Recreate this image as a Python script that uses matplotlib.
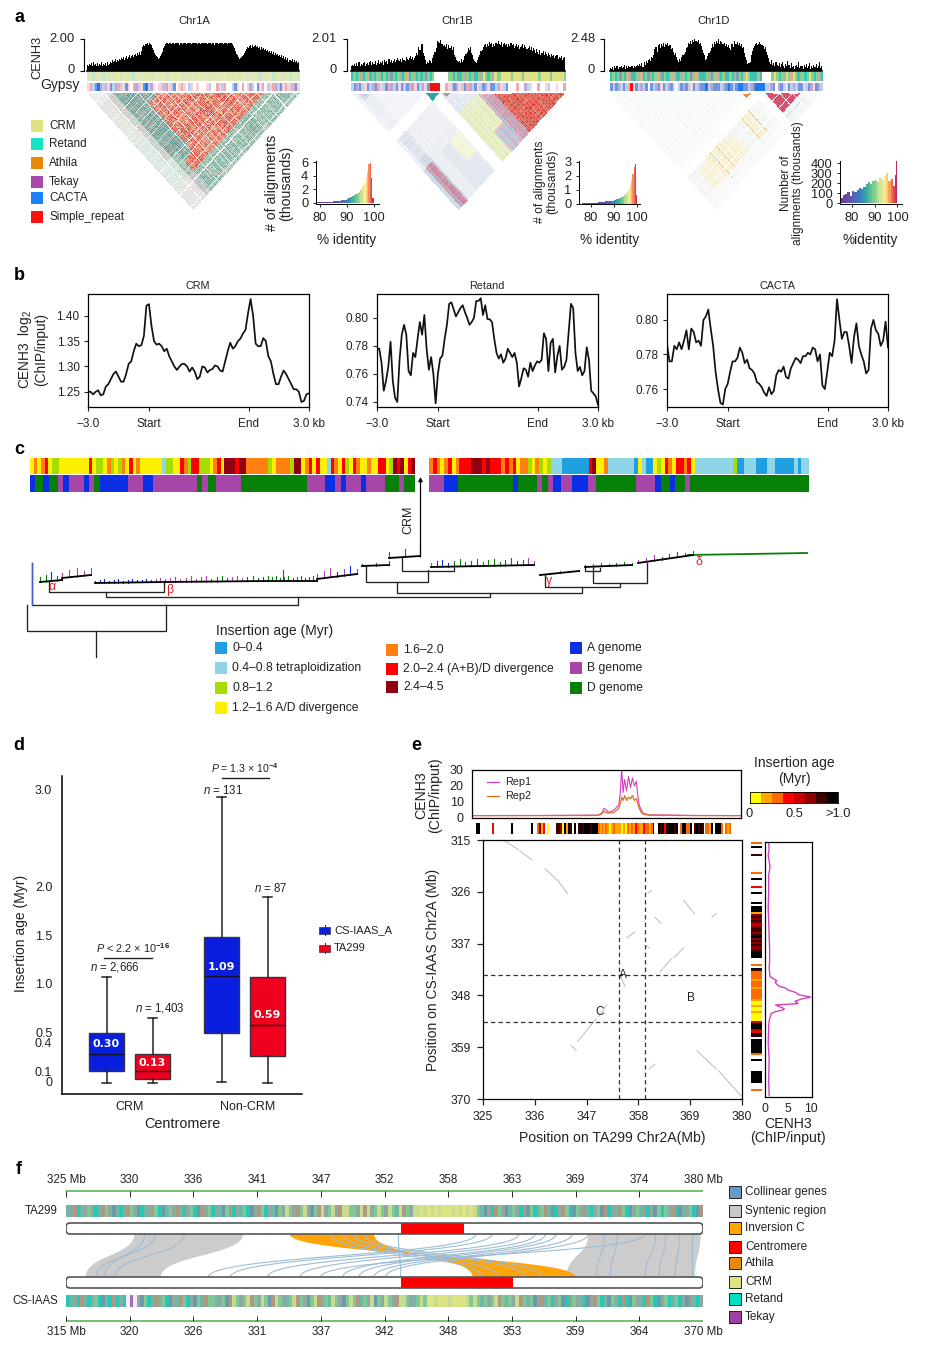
import numpy as np
import matplotlib
matplotlib.use('Agg')
import matplotlib.pyplot as plt
from matplotlib.colors import to_rgb, LinearSegmentedColormap
from matplotlib.patches import Rectangle, FancyBboxPatch, PathPatch
from matplotlib.path import Path

plt.rcParams['font.family'] = ['Liberation Sans', 'DejaVu Sans']
plt.rcParams['mathtext.fontset'] = 'custom'
plt.rcParams['mathtext.rm'] = 'Liberation Sans'
plt.rcParams['mathtext.it'] = 'Liberation Sans:italic'
plt.rcParams['mathtext.bf'] = 'Liberation Sans:bold'
plt.rcParams['mathtext.default'] = 'regular'
plt.rcParams['axes.linewidth'] = 0.9

# ------------------------------------------------------------------ data: a
chr_names = ['Chr1A', 'Chr1B', 'Chr1D']
cenh3_max = [2.00, 2.01, 2.48]
# CENH3 signal read along each chromosome, one base-36 level (0..z of 35) per character
sig_A = ('768796a7869587a68796a78a' '9cabdacbdcedfceg' 'dfhegifhjgkilhm' 'qsrtuvsv' 'tspnkigfde' 'gjlprt'
         'vvuvvtvvuvvvvsvvuvvvtvvvvuvvvvtvvuvvvvvvtvvvuvvsvvvuvvvvtvvvuvvvv' 'trpmjhfdefgi' 'kmoqprspsqrsqrpqnqopnomnlmkm' 'jlikhjgifhegdfceaccbdacab9a')
sig_B = ('5768596a6879a6897ab7a8b79c8a9b7cab8dac9bdacecbdaecbfdcegdfce' 'gkhqnutkgc' '8a9cb9ehlp' 'xwvytursqtosprnq' 'hfcbab9dac' 'gjlpnqkhdb' 'a9'
         'cfimnqsuqtrwuvqtrvuxtswqtvsuqtrvsuprtqsoqrtpsqoprnq' 'mpnkoljnhkmiljgkhfjgieghdfegcef')
sig_D = ('324153524463472536456354' '5768694a7b9cdbfe' 'ioqlsuptrvqtsv' 'rsoplikf' 'cadbfhjl' 'pqvtxuywzxwytvrnkh' 'cdgkmp' 'tqwuxvztxwuvrtqspn'
         'tuqxuwsvrtpq' 'kfc89a' 'hmprtvsuwtsroq' 'lhea8c79' '6a75948a6385b739462574a365274836925374836a35')
strip1_A = 'mytmyemtymemyymeymytmeyemymemyeyeymeymyeymemyemymyeymemyeyeymymeymyemeyeytmemyetmymemymtyem'
strip1_B = 'tgtgmtgotmtgmtgtmsgtgmtgotgmtgtmsgtg      ggtgstgmgtgstgmygtgmyggyyyygyyyymyyyyyygyyyymyyyyyg'
strip1_D = 'tgtmsgtomstgmotgsmtgomsgtmogstmgtgsmogtstgmsgomtgstgtmsgtoygtstgs    gygtgmygoygtmgtgygtgmt'
strip2_A = 'qplbBulpqbluplqbqwpulqbBluqwqlpuqlbwqpqwlqwqwwwqlwwpqlpwwlbqwpwqulwbqpwlqpulbqpqlpbq'
strip2_B = 'lbublqblubpqlbpulbqblbpuqbluqbRRRR wpqlbuqlbpulbqlbuqbbluqlb wwpwwulqwwpwwqlwwqwwp'
strip2_D = 'blbulblpRqblulbwblubqblubqwlbublqblubbBlubbblubBblbBBbblubBBBBllubwublqblulbbqlbuqbul'
tri_A_weight = ('4643545346345436453' '0' '4635463546'
                '789687968796897968978967889' '0' '78'
                '978689498697896379687968578697'
                '0798697856798867948698796397869'
                '78968979647968978698396897869798'
                '9786897968' '0' '7968578698796397869'
                '78697896479688797689679869' '0' '0' '7986'
                '8796978698796878968' '0' '68796')
tri_B_weight = ('34534' '67867' '98979' '78678'
                '35345' '43534' '53453' '45345' '34534' '53453' '43534' '45343' '53454' '34534'
                '343'
                '00000' '00000' '0000'
                '4657' '5674' '6567' '5746' '5765' '6475' '5647' '5675' '5746' '5765'
                '7687' '6786' '8768'
                '7897' '9878' '8987' '9789' '8798' '9879' '8978' '7989' '8789' '9878' '7987' '9789' '8798' '9879' '8978' '9879' '7898' '8979')
tri_D_weight = ('3235234' '2342352' '4323423' '2352342' '3234232' '3423523'
                '4824234' '2352382' '3423532' '2342352' '3234232' '4232342' '3523423'
                '2342352' '3234823' '2352342' '3248232' '3423423'
                '222222222' '0010101010'
                '89989898998898' '0' '99898989898' '0' '89989898'
                '1' '34234' '8234' '23423' '4232')
tri_A_region = ['ppppbbbbbbpp', 'ptttttttggpp', 'pptttttttrgg', 'ppttrrrrrrgg', 'pprrrrrrrrgg', 'pprrrrrrrrgg',
                'pprrrrrrrrgg', 'pprrrrrrrrgg', 'pprrrrrrrrgg', 'pprrrrrrrrgg', 'pprrrrrrrrgg', 'ggggggggggggg']
tri_B_region = ['wwwwwwwwssss', 'wwwwwwwwwwww', 'wwwwwwwwmmmm', 'wwwwwwwwyymm', 'wwwwwwwwwwww', 'wwwwwwwyyyyy',
                'wwwwwwwyyyss', 'wwwwwwwsssss', 'wwwwwwwwrrrr', 'wwwwwwwwrrrr', 'wwwwwwwwrrrr', 'wwwwwwwwrrrr']
tri_D_region = ['vvvvvvvvvvvv', 'vvvvvvvvvoov', 'vvvvvvvvooov', 'vvvvvvvvooov', 'vvvvvvvvvoov', 'vvvvvvvvvvvv',
                'vvvvvvvvooov', 'vvvvvvvvvvvv', 'vvvvvvvvvvvv', 'vvvvvvvvvvvv', 'vvvvvvvvvvvv', 'vvvvvvvvvvvv']
tri_B_blocks = [(.35, .41, '#2AA6A6', False), (.43, .46, '#A0A0A0', False)]
tri_D_blocks = [(.625, .665, '#F08A30', False), (.735, .895, '#D84868', True)]
hist_A_x = [79,80,81,82,83,84,85,86,87,88,89,90,90.5,91,91.5,92,92.5,93,93.5,94,94.5,95,95.5,96,96.5,97,97.5,98,98.5,99,99.5]
hist_A_y = [.03,.04,.05,.07,.1,.14,.18,.22,.3,.36,.42,.55,.7,.8,.85,.95,1.1,1.25,1.35,1.5,1.65,1.9,2.3,2.6,3.0,3.6,4.6,5.7,5.9,3.6,.7]
hist_B_x = [76,77,78,79,80,81,82,83,84,85,86,87,88,89,90,90.5,91,91.5,92,92.5,93,93.5,94,94.5,95,95.5,96,96.5,97,97.5,98,98.5,99,99.5]
hist_B_y = [.01,.02,.02,.03,.04,.05,.06,.08,.1,.12,.15,.18,.2,.22,.25,.28,.3,.34,.38,.42,.46,.5,.55,.62,.72,.85,1.0,1.15,1.35,1.7,2.1,2.6,2.85,.6]
hist_D_x = [75,76,77,78,79,80,81,82,83,84,85,86,87,88,89,90,91,92,93,94,95,96,97,98,99,99.5]
hist_D_y = [50,85,95,110,70,125,110,130,150,140,165,190,210,190,225,235,210,250,230,270,300,220,240,170,280,420]

# ------------------------------------------------------------------ data: b
crm_values = [1.25,1.25,1.245,1.25,1.253,1.243,1.245,1.26,1.265,1.275,1.285,1.29,1.28,1.27,1.27,1.285,1.305,1.31,1.33,1.345,1.34,1.342,1.36,1.42,1.423,1.38,1.35,1.343,1.345,1.34,1.33,1.335,1.32,1.31,1.30,1.293,1.30,1.305,1.305,1.30,1.29,1.298,1.29,1.275,1.28,1.30,1.298,1.288,1.293,1.295,1.302,1.30,1.292,1.29,1.31,1.33,1.347,1.335,1.34,1.35,1.355,1.365,1.372,1.405,1.433,1.40,1.345,1.34,1.34,1.356,1.35,1.32,1.31,1.285,1.265,1.265,1.28,1.292,1.285,1.275,1.265,1.255,1.255,1.25,1.23,1.232,1.245,1.247]
retand_values = [.778,.778,.768,.748,.755,.765,.783,.755,.743,.74,.77,.788,.795,.788,.762,.759,.775,.772,.785,.797,.788,.802,.778,.763,.772,.76,.739,.76,.771,.773,.785,.795,.81,.811,.806,.801,.804,.807,.809,.804,.80,.795,.797,.80,.812,.812,.814,.802,.809,.799,.799,.797,.785,.775,.771,.774,.768,.771,.778,.775,.772,.775,.768,.751,.757,.764,.763,.758,.768,.762,.766,.769,.768,.77,.789,.785,.762,.782,.785,.761,.773,.78,.763,.765,.77,.79,.81,.807,.775,.762,.765,.759,.762,.779,.77,.748,.746,.744,.738]
cacta_values = [.786,.776,.776,.785,.783,.787,.783,.788,.794,.783,.795,.793,.787,.788,.785,.80,.802,.806,.795,.785,.77,.76,.752,.751,.76,.763,.77,.776,.776,.778,.784,.781,.775,.777,.772,.771,.769,.764,.763,.761,.758,.756,.761,.757,.759,.768,.771,.77,.773,.767,.766,.772,.775,.778,.777,.775,.779,.779,.781,.78,.784,.783,.776,.78,.762,.76,.77,.781,.779,.788,.812,.80,.789,.793,.793,.785,.775,.79,.798,.785,.78,.776,.769,.771,.795,.80,.794,.792,.785,.788,.799,.784]
b_titles = ['CRM', 'Retand', 'CACTA']
b_ylims = [(1.22, 1.443), (.7364, .817), (.7496, .815)]
b_yticks = [[1.25, 1.30, 1.35, 1.40], [.74, .76, .78, .80], [.76, .78, .80]]
b_xlabels = ['\u22123.0', 'Start', 'End', '3.0 kb']

# ------------------------------------------------------------------ data: c
c_age_left = 'yoyoryggyyyyyyyyryggyogygoyryoyyyyyylggyyrogrrgggyorydddrddoooooogyoooogddyoryryylroyrgyroyyoyyrrygdrdyrd'
c_age_right = 'oroyoryorrrdddrdrrrororyoogyogyglllbbbbbbbrdyyolllllllbylbbygyroyrroryllllllllllgbblllbbbllbbbbblbll'
c_gen_left = [('A',10),('D',15),('A',11),('D',17),('B',10),('A',10),('B',28),('A',10),('B',10),('D',10),('A',54),('B',28),('A',18),('B',84),('D',8),('B',12),('D',16),('B',47),('D',123),('B',34),('A',20),('B',10),('A',10),('B',28),('A',10),('B',35),('D',27),('B',10),('D',20)]
c_gen_right = [('B',28),('A',27),('D',103),('A',10),('D',36),('B',10),('D',10),('B',10),('A',16),('B',20),('A',30),('B',15),('D',75),('B',37),('A',10),('D',17),('A',10),('D',19),('B',10),('D',224)]
c_age_names = ['0\u20130.4', '0.4\u20130.8 tetraploidization', '0.8\u20131.2', '1.2\u20131.6 A/D divergence', '1.6\u20132.0', '2.0\u20132.4 (A+B)/D divergence', '2.4\u20134.5']
c_genome_names = ['A genome', 'B genome', 'D genome']
tree_brackets = [(26.5,165.6,605,605,631),(32,298,563,597,605),(106,490,592,593,597),(49,164,582,582,592),(397,582,582,587,593),
                 (366,427.5,566,570,582),(402,454,557,568,571),(545,620,575,583,587),(593,647,568,563,583),(585,600,567,568,571)]
tree_combs = [(40,582,62,580,'DDADD',5),(62,578,91,575,'BBBBB',5),(95,583,165,582,'AAAAAAAAAAAAABBB',2),(165,582,268,581,'BBBBBBBBBDDDDBBBDDDDD',3),
              (268,581,317,581,'DDDDDDDDDDDDD',3),(317,579,357,574,'BBBABAB',5),(362,566,389,565,'DDD',2),(389,558,420,556,'DDD',6),
              (431,567,534,565,'BAAADDDDDDDDDDDDDBB',4),(540,575,579,571,'DDDDD',1),(585,567,632,565,'ABDDDDD',2),(638,563,693,555,'BBBDDDDD',3)]
tree_trunks = [(688,555,807,553)]
greek_labels = [(52,587,'\u03b1'),(170,590,'\u03b2'),(549,581,'\u03b3'),(699,562,'\u03b4')]

# ------------------------------------------------------------------ data: d
d_stats = [dict(med=.278, q1=.10, q3=.495, whislo=-.02, whishi=1.07, fliers=[]),
           dict(med=.10, q1=.02, q3=.278, whislo=-.02, whishi=.65, fliers=[]),
           dict(med=1.08, q1=.495, q3=1.485, whislo=-.01, whishi=2.93, fliers=[]),
           dict(med=.58, q1=.26, q3=1.07, whislo=-.02, whishi=1.90, fliers=[])]
d_positions = [-.2, .2, .8, 1.2]
d_means = ['0.30', '0.13', '1.09', '0.59']
d_mean_y = [.38, .185, 1.18, .68]
d_colors = ['#0A1EE0', '#F0001E', '#0A1EE0', '#F0001E']
d_yticks = [0, .1, .4, .5, 1.0, 1.5, 2.0, 3.0]
d_ylabels = ['0', '0.1', '0.4', '0.5', '1.0', '1.5', '2.0', '3.0']

# ------------------------------------------------------------------ data: e
rep_pos = [325,340,350.8,351.5,352,352.4,353,354,355,355.3,355.6,355.9,356.2,356.6,357,357.4,357.8,358.2,358.6,358.9,359.2,359.6,360,361,370,380]
rep1 = [1.5,1.6,1.8,3,6,5,3.5,5,8,15,31,16,24,17,26,19,25,20,23,14,8,5,3,2,1.6,1.5]
rep2 = [1.5,1.5,1.6,2.5,4,3.5,3,3.5,6,9,13,11,14,11,13,12,14,11,12,9,6,3.5,2.5,1.8,1.5,1.5]
e_dots = [(329.4,315.1,332.5,317),(332.8,317.3,335.4,319.2),(338.2,321.1,341.2,324),(341.2,324,343,326.4),(367.6,327.8,369.9,330.7),
          (361.5,331.4,362.8,332.7),(373.6,331.4,374.5,330.7),(367.6,337.9,365.5,340),(365,340.2,362.6,343),(354.1,343.6,355.2,346.2),
          (351.3,350,349.5,352.5),(349,353,345.1,357.8),(343.7,358.6,344.8,359.7),(370.4,359.7,374.5,363.6),(375,364,379.9,369.4),
          (361.5,362.6,360.3,363.6),(355.5,335.8,357.3,334.5),(359.4,337.4,360.3,337.9),(360,326.3,360.8,325.7)]
e_vlines = [353.9, 359.3]
e_hlines = [343.7, 353.6]
e_top_strip = ('77      3         7         7  2513 0    ' '66507176 7 6' '767776777' '21212101211101021213211322127' '  ' '7673677767 277227 67676 2217 7772 212')
e_side_strip = (' 2 7   6        2  7   3  7    7 7771' '56565456656756565567' '77   2 76' '22221222122222' '1' '0010010000' '4' '777437' '6 7' '777777' '2  7     777777   2    ')
e_prof_pos = [315.4,316.7,318.1,320.5,322.3,325.9,329.4,332.2,335.1,337.9,340.7,342.2,344,344.6,344.9,345.2,345.6,346.1,346.5,346.9,347.4,347.9,348.4,348.8,349.3,349.8,350.1,350.6,350.9,351.2,351.6,352,352.5,353,353.7,354.4,355.5,358.3,361.8,366.1,369.5]
e_prof_val = [.8,.9,.7,1.1,.8,.8,.7,.8,.9,1.0,1.0,.9,1.1,2.0,2.6,2.2,2.5,3.1,4.5,5,6.6,7.3,9.9,8.0,6.5,7.2,2.3,3.5,4.2,3.8,2.0,1.3,1.2,1.0,.9,.8,.8,.7,.9,.8,.9]
age_cmap_colors = ['#FFFF00', '#FFA500', '#FF6A00', '#FF0000', '#CC0000', '#8B0000', '#400000', '#000000']

# ------------------------------------------------------------------ data: f
f_top_labels = ['325 Mb','330','336','341','347','352','358','363','369','374','380 Mb']
f_bot_labels = ['315 Mb','320','326','331','337','342','348','353','359','364','370 Mb']
f_ticks = [325,330.5,336,341.5,347,352.5,358,363.5,369,374.5,380]
f_top_strip = ('tmaTtmgmTtagmstTmagmsTtmagTstgmatTmgTsamgTmtsgaTmtgTsmagTmts' 'gmygmagymsgaymgymayyggmyaymgygmygtyagmy' 'ycycycycccycycycy'
               'gtsmTagmstgmTasgTmgatsTmagTsgmatTmgsaTmtagTsmgtaTmsgTgmaTstmgTsa')
f_bot_strip = ('TtmTatTmgTstTaTmTwuwmsgTtamgTsmtagTmsgtaggtmgsaygmgyagmygsay' 'gmtgyagmsgyamgtygmsgygatgmysgmygmayygmtgyg' 'ccycccyccccy'
               'gygtgmgyagtgmyagtgsmatgTmgsTagmtTsmagTtsgmTaTsgmtTagTsmgTtgTmsatTm')
ribbons_gray = [(330.9,340.3,316.7,323.2),(370.1,379.8,358.2,369.3)]
ribbons_orange = [(344.3,351.6,359.0,350.1)]
f_lines = [(332.7,317.6),(335.2,319.2),(331.8,318.3),(371.5,360.8),(372.6,362),(375.9,365),(376.8,366.2),(378,367.6),(379.1,369.1),(353.7,343.9),
           (347.9,350.9),(348.9,352.3),(349.8,354.6),(350.7,356),(360.4,327.3),(361.8,329.2),(364.1,332.4),(365.5,335.2),(366.4,338.9),(367.3,340.3),(368.7,341.6),(370.1,342.6),(375,337)]
f_centromere_top = (353.9, 359.4)
f_centromere_bot = (343.9, 353.6)
f_legend = [('Collinear genes','#6A9BC8'),('Syntenic region','#C8C8C8'),('Inversion C','#FFA500'),('Centromere','#FF0000'),
            ('Athila','#E8890C'),('CRM','#DDE282'),('Retand','#00E0C0'),('Tekay','#A040A0')]

# ------------------------------------------------------------------ helpers
W, H = 930, 1354
fig = plt.figure(figsize=(W/100, H/100), dpi=100, facecolor='white')

def ax_px(x0, y0, x1, y1, **kw):
    return fig.add_axes([x0/W, 1-y1/H, (x1-x0)/W, (y1-y0)/H], **kw)

ov = ax_px(0, 0, W, H, zorder=10)
ov.patch.set_alpha(0)
ov.set_xlim(0, W); ov.set_ylim(H, 0); ov.axis('off'); ov.set_autoscale_on(False)

def T(x, y, s, size=8, ha='center', va='center', **kw):
    return ov.text(x, y, s, fontsize=size, ha=ha, va=va, color=kw.pop('color', '#222222'), **kw)

def strip(ax, codes, pal, x0, x1, y0, y1, interp='nearest', vertical=False):
    rgb = np.array([to_rgb(pal.get(c, '#FFFFFF')) for c in codes])
    arr = rgb[:, None, :] if vertical else rgb[None, :, :]
    ax.imshow(arr, extent=(x0, x1, y1, y0), aspect='auto', interpolation=interp, zorder=2)

def runs(lst):
    return ''.join(c*n for c, n in lst)

# ------------------------------------------------------------------ panel labels
for lab, x, y in [('a',19,18),('b',19,275),('c',19,449),('d',19,745),('e',416,745),('f',19,1170)]:
    ov.text(x, y, lab, fontsize=13, fontweight='bold', ha='center', va='center', color='black')

# ------------------------------------------------------------------ panel a
pal_top_A = {'m':'#D9E6B8','y':'#E6EBA8','t':'#B5EBDD','e':'#E2E6CC'}
pal_top = {'t':'#2CCDB0','g':'#8FCF90','m':'#A8B8A0','o':'#D8B48C','s':'#6FA8B0','y':'#DDE282'}
pal_bot = {'b':'#6F96E0','B':'#1E78F0','l':'#BBD0F0','p':'#F0A8B4','q':'#F8D4D8','u':'#B8A8D8','R':'#F01010'}
panel_a = [
    (sig_A, strip1_A, strip2_A, pal_top_A, 84, 87, 299, 194, 75),
    (sig_B, strip1_B, strip2_B, pal_top, 347, 351, 565, 457, 337),
    (sig_D, strip1_D, strip2_D, pal_top, 604, 610, 822, 714, 595),
]
for k, (sig, s1, s2, pal, sp, xa, xb, tx, lx) in enumerate(panel_a):
    ax = ax_px(sp, 39, xb, 71)
    vmax = cenh3_max[k]
    levels = np.array([int(c, 36) for c in sig]) / 35 * vmax
    xs = np.linspace(xa, xb, len(levels)+1)
    ax.stairs(levels, xs, fill=True, color='black', baseline=0)
    ax.set_xlim(sp, xb); ax.set_ylim(0, vmax)
    for s in ['top', 'right', 'bottom']:
        ax.spines[s].set_visible(False)
    ax.spines['left'].set_linewidth(.8)
    ax.set_xticks([]); ax.set_yticks([0, vmax]); ax.set_yticklabels([])
    ax.tick_params(length=3, width=.8)
    ov.plot([xa, xb], [71, 71], color='black', lw=1.2, zorder=3)
    T(lx, 39, f'{vmax:.2f}', 9.3, ha='right'); T(lx, 70, '0', 9.3, ha='right')
    T(tx, 21, chr_names[k], 8)
    strip(ov, s1, pal, xa, xb, 72, 81, 'bilinear' if k == 0 else 'nearest')
    strip(ov, s2, pal_bot, xa, xb, 83, 91)
T(37, 57, 'CENH3', 9.3, rotation=90)
T(80, 85, 'Gypsy', 10, ha='right')
a_legend = [('CRM','#DDE282',126),('Retand','#16E3C6',144),('Athila','#E8890C',163),('Tekay','#A848A8',182),('CACTA','#1E80FF',198),('Simple_repeat','#FF1010',217)]
for name, col, y in a_legend:
    ov.add_patch(Rectangle((31, y-6), 12, 12, fc=col, ec='none'))
    T(49, y, name, 8.4, ha='left')

tri_pal = {'p':('#8A90A8','#C4B8A0',.8),'b':('#C8B898','#98C0B0',.85),'t':('#3C9088','#A89888',1.0),'r':('#D62C2C','#E8A060',1.0),
           'g':('#5E9C8C','#B4C8A8',1.0),'w':('#6E84B0','#A0AEC8',.5),'s':('#D05870','#70A0C8',.9),'y':('#A8CC70','#E4E088',.8),
           'm':('#70B8A0','#A8B8D0',.8),'v':('#8AB8B8','#C0D0C8',.6),'o':('#E09860','#E0C860',.75)}

def triangle(x0, x1, y0, y1, weight, region, blocks=()):
    ax = ax_px(x0, y0, x1, y1)
    ax.axis('off')
    w = np.array([int(c) for c in weight]) / 9.0
    n = len(w); R = len(region)
    img = np.ones((n, n, 3))
    for i in range(n):
        for j in range(i+1, n):
            c = region[min(i*R//n, R-1)][min(j*R//n, R-1)]
            c1, c2, st = tri_pal[c]
            mix = min(1.0, 2.5*abs(w[i]-w[j]))
            col = (1-mix)*np.array(to_rgb(c1)) + mix*np.array(to_rgb(c2))
            a = st*w[i]*w[j]
            img[j, i] = 1-a+a*col
    for u0, u1, c, use_w in blocks:
        i0, i1 = int(u0*n), int(u1*n)
        for i in range(i0, i1):
            for j in range(i+1, i1+1):
                if j < n:
                    if use_w:
                        a = 0 if w[i]*w[j] == 0 else .55+.45*w[i]*w[j]
                    else:
                        a = 1
                    img[j, i] = 1-a+a*np.array(to_rgb(c))
    a = np.arange(n+1)
    A, B = np.meshgrid(a, a)
    X = (A+B)/2/n
    Y = (B-A)/2/n
    ax.pcolormesh(X, Y, img, shading='flat', linewidth=0, rasterized=True)
    ax.set_xlim(0, 1); ax.set_ylim(.5, 0)

triangle(87, 300, 93, 210, tri_A_weight, tri_A_region)
triangle(352, 565, 93, 210, tri_B_weight, tri_B_region, tri_B_blocks)
triangle(610, 822, 93, 210, tri_D_weight, tri_D_region, tri_D_blocks)

rain = LinearSegmentedColormap.from_list('rain', [(0,'#6A3FA0'),(.2,'#5A60B0'),(.35,'#3088C0'),(.45,'#40B0A0'),(.55,'#70C890'),
                                                 (.65,'#C0E090'),(.75,'#F8F0A0'),(.82,'#F8C060'),(.9,'#F05050'),(1,'#B02060')])
hist_panels = [
    (hist_A_x, hist_A_y, (316,161,379,204), (78.5,102), (6.2,-.2), [0,2,4,6], ['0','2','4','6'], 80, 1.5),
    (hist_B_x, hist_B_y, (579,161,640,204), (74.8,101.3), (3.05,-.03), [0,1,2,3], ['0','1','2','3'], 80, 1.5),
    (hist_D_x, hist_D_y, (840,161,902,204), (74.7,102), (420,-8), [0,100,200,300,400], ['0','100','200','300','400'], 75, 1.0),
]
for hx, hy, box, xl, yl, yt, ytl, v0, gam in hist_panels:
    ax = ax_px(box[0], box[1], box[2], box[3])
    hx = np.array(hx, float)
    widths = np.diff(np.append(hx, 100))
    ax.bar(hx, hy, width=widths, align='edge', color=rain(np.clip((hx-v0)/(100-v0), 0, 1)**gam), linewidth=0)
    ax.set_xlim(*xl); ax.set_ylim(yl[1], yl[0])
    ax.set_xticks([80, 90, 100]); ax.set_yticks(yt); ax.set_yticklabels(ytl)
    ax.tick_params(labelsize=9.3, length=2.5, width=.7, pad=3, colors='#222222')
    ax.spines['top'].set_visible(False); ax.spines['right'].set_visible(False)
    ax.spines['left'].set_linewidth(.7); ax.spines['bottom'].set_linewidth(.7)
T(347, 240, '% identity', 9.8); T(610, 240, '% identity', 9.8); T(870, 240, '%identity', 9.8)
T(279, 183, '# of alignments\n(thousands)', 10.2, rotation=90, linespacing=.95)
T(546, 182, '# of alignments\n(thousands)', 8.7, rotation=90, linespacing=.95)
T(792, 183, 'Number of\nalignments (thousands)', 8.6, rotation=90, linespacing=.95)

# ------------------------------------------------------------------ panel b
for k, (vals, x0) in enumerate(zip([crm_values, retand_values, cacta_values], [88, 377, 667])):
    ax = ax_px(x0, 294, x0+221, 407)
    xs = np.linspace(-3, 3, len(vals))
    ax.plot(xs, vals, color='#111111', lw=1.25)
    ax.set_xlim(-3, 3); ax.set_ylim(*b_ylims[k])
    ax.set_xticks([-3, -1.34, 1.37, 3]); ax.set_xticklabels(b_xlabels)
    ax.set_yticks(b_yticks[k]); ax.set_yticklabels([f'{v:.2f}' for v in b_yticks[k]])
    ax.tick_params(labelsize=8.5, length=3, width=.8, pad=3, colors='#222222')
    ax.tick_params(axis='x', pad=5)
    T(x0+110, 286, b_titles[k], 7.8)
T(32, 350, 'CENH3  log$_2$\n(ChIP/input)', 9.8, rotation=90, linespacing=.95)

# ------------------------------------------------------------------ panel c
age_pal = {'b':'#1E9FE0','l':'#8ED5E8','g':'#A6DC00','y':'#FFF000','o':'#FF7F10','r':'#FF0000','d':'#900010'}
gen_pal = {'A':'#0A2FE6','B':'#A845A8','D':'#068006'}
strip(ov, c_age_left, age_pal, 30, 414, 458, 474)
strip(ov, c_age_right, age_pal, 429, 808, 458, 474)
strip(ov, runs(c_gen_left), gen_pal, 30, 414, 475, 492)
strip(ov, runs(c_gen_right), gen_pal, 429, 808, 475, 492)
for xl, xr, yl, yr, ybar in tree_brackets:
    ov.plot([xl, xl, xr, xr], [yl, ybar, ybar, yr], color='#222222', lw=.95, solid_joinstyle='miter')
ov.plot([96, 96], [631, 657], color='#222222', lw=.95)
ov.plot([32, 32], [563, 605], color='#3F5FD0', lw=1)
for x0, y0, x1, y1, g, h in tree_combs:
    ov.plot([x0, x1], [y0, y1], color='black', lw=1.3, zorder=3)
    xs = np.linspace(x0, x1, len(g))
    ys = np.linspace(y0, y1, len(g))
    for i, (xx, yy, cc) in enumerate(zip(xs, ys, g)):
        ov.plot([xx, xx], [yy, yy-h*(1+.4*(i % 3))], color=gen_pal[cc], lw=.8, zorder=2)
ov.plot([283, 283], [581, 570], color=gen_pal['D'], lw=.8)
for x0, y0, x1, y1 in tree_trunks:
    ov.plot([x0, x1], [y0, y1], color=gen_pal['D'], lw=1.3)
ov.annotate('', xy=(420.5, 477), xytext=(420.5, 557), arrowprops=dict(arrowstyle='-|>', color='black', lw=.9, mutation_scale=6, shrinkA=0, shrinkB=0))
T(408, 520, 'CRM', 9, rotation=90)
for x, y, g in greek_labels:
    T(x, y, g, 9, color='#E02020')
T(216, 631, 'Insertion age (Myr)', 10, ha='left')
c_leg = list(zip(c_age_names, ['b','l','g','y','o','r','d'],
                 [(215,648),(215,668),(215,688),(215,708),(386,650),(386,669),(386,687)]))
for name, c, (x, y) in c_leg:
    ov.add_patch(Rectangle((x, y-6), 12, 12, fc=age_pal[c], ec='none'))
    T(x+17, y, name, 8.7, ha='left')
for name, c, y in zip(c_genome_names, 'ABD', [648, 668, 688]):
    ov.add_patch(Rectangle((570, y-6), 12, 12, fc=gen_pal[c], ec='none'))
    T(587, y, name, 8.7, ha='left')

# ------------------------------------------------------------------ panel d
ax = ax_px(62, 776, 302, 1094)
bp = ax.bxp(d_stats, positions=d_positions, widths=.304, patch_artist=True, showcaps=True, showfliers=False,
            medianprops=dict(color='#111122', lw=1), whiskerprops=dict(color='#222222', lw=1.1),
            capprops=dict(color='#222222', lw=1.1), capwidths=.07,
            boxprops=dict(edgecolor='#333344', lw=1))
for b, c in zip(bp['boxes'], d_colors):
    b.set_facecolor(c)
ax.set_xlim(-.587, 1.5); ax.set_ylim(-.134, 3.144)
ax.set_xticks([0, 1.03]); ax.set_xticklabels(['CRM', 'Non-CRM'])
ax.set_yticks(d_yticks); ax.set_yticklabels(d_ylabels)
ax.tick_params(axis='both', length=0, labelsize=9, colors='#222222')
ax.tick_params(axis='y', pad=7); ax.tick_params(axis='x', pad=5)
ax.spines['top'].set_visible(False); ax.spines['right'].set_visible(False)
ax.spines['left'].set_linewidth(1.1); ax.spines['bottom'].set_linewidth(1.1)
for x, y, s in zip(d_positions, d_mean_y, d_means):
    ax.text(x, y, s, color='white', fontsize=8, fontweight='bold', family='DejaVu Sans', ha='center', va='center', zorder=5)
T(21, 933, 'Insertion age (Myr)', 10, rotation=90)
T(182, 1124, 'Centromere', 10.4)
T(133, 948, '$\\mathit{P}$ < 2.2 \u00d7 10$^{\\mathbf{-16}}$', 7.8)
ov.plot([104, 152], [958, 958], color='#222222', lw=1)
T(245, 768, '$\\mathit{P}$ = 1.3 \u00d7 10$^{\\mathbf{-4}}$', 7.6)
ov.plot([222, 269], [778, 778], color='#222222', lw=1)
for x, y, s in [(115,967,'2,666'),(160,1008,'1,403'),(223,790,'131'),(271,888,'87')]:
    T(x, y, f'$\\mathit{{n}}$ = {s}', 8.3)
for y, c, s in [(930, '#0A1EE0', 'CS-IAAS_A'), (948, '#F0001E', 'TA299')]:
    ov.plot([324.5, 324.5], [y-5, y+5], color='#222222', lw=.7, zorder=2)
    ov.add_patch(Rectangle((319, y-3.5), 11, 7, fc=c, ec='#333333', lw=.5, zorder=3))
    T(334, y, s, 8, ha='left')

# ------------------------------------------------------------------ panel e
ax = ax_px(472, 770, 741, 818)
ax.plot(rep_pos, rep1, color='#D040C0', lw=.8)
ax.plot(rep_pos, rep2, color='#E0701C', lw=.9)
ax.set_xlim(325, 380); ax.set_ylim(0, 30)
ax.set_xticks([]); ax.set_yticks([0, 10, 20, 30])
ax.tick_params(labelsize=9, length=0, pad=6, colors='#222222')
ov.plot([487, 499], [782, 782], color='#D040C0', lw=.9)
ov.plot([487, 499], [796, 796], color='#E0701C', lw=.9)
T(505, 782, 'Rep1', 7.8, ha='left'); T(505, 796, 'Rep2', 7.8, ha='left')
T(428, 795, 'CENH3\n(ChIP/input)', 10.2, rotation=90, linespacing=1)
age_pal2 = {str(i): c for i, c in enumerate(age_cmap_colors)}
strip(ov, e_top_strip, age_pal2, 476, 731, 823, 834)
ax = ax_px(483, 840, 742, 1099)
for x0, y0, x1, y1 in e_dots:
    ax.plot([x0, x1], [y0, y1], color='#B0B0B0', lw=.6)
for v in e_vlines:
    ax.axvline(v, color='#333333', lw=.9, ls=(0, (3.5, 2.5)))
for v in e_hlines:
    ax.axhline(v, color='#333333', lw=.9, ls=(0, (3.5, 2.5)))
ax.set_xlim(325, 380); ax.set_ylim(370, 315)
ax.set_xticks(range(325, 381, 11)); ax.set_yticks(range(315, 371, 11))
ax.tick_params(labelsize=8.8, length=4, width=.9, colors='#222222', pad=5)
for x, y, s in [(354.8, 343.7, 'A'), (369.1, 348.5, 'B'), (349.7, 351.5, 'C')]:
    ax.text(x, y, s, fontsize=8.6, ha='center', va='center', color='#222222')
T(612, 1138, 'Position on TA299 Chr2A(Mb)', 10.1)
T(433, 970, 'Position on CS-IAAS Chr2A (Mb)', 9.9, rotation=90)
strip(ov, e_side_strip, age_pal2, 751, 762, 840, 1099, vertical=True)
ax = ax_px(765, 842, 812, 1097)
ax.plot(e_prof_val, e_prof_pos, color='#D040C0', lw=1)
ax.set_xlim(0, 10.2); ax.set_ylim(369.8, 315.2)
ax.set_yticks([]); ax.set_xticks([0, 5, 10])
ax.tick_params(labelsize=8.8, length=0, pad=4, colors='#222222')
T(788, 1131, 'CENH3\n(ChIP/input)', 10.2, linespacing=1)
ax = ax_px(750, 792, 838, 803)
ax.imshow(np.arange(8)[None, :], aspect='auto', cmap=matplotlib.colors.ListedColormap(age_cmap_colors), interpolation='nearest', extent=(0, 1.0, 0, 1))
ax.set_yticks([]); ax.set_xticks([])
ax.spines[:].set_linewidth(.6)
T(749, 814, '0', 9.3); T(794, 814, '0.5', 9.3); T(838, 814, '>1.0', 9.3)
T(794, 771, 'Insertion age\n(Myr)', 10, linespacing=1.1)

# ------------------------------------------------------------------ panel f
ax = ax_px(66, 1170, 703, 1335)
ax.axis('off'); ax.set_autoscale_on(False)
ax.set_xlim(325, 380); ax.set_ylim(1335, 1170)
OFF = 10  # the lower assembly is 10 Mb behind the upper one on the shared scale
Ytop, Ybot = 1234, 1277
Ymid = (Ytop+Ybot)/2

def ribbon(a0, a1, b0, b1, **kw):
    verts = [(a0, Ytop), (a0, Ymid), (b0, Ymid), (b0, Ybot), (b1, Ybot), (b1, Ymid), (a1, Ymid), (a1, Ytop), (a0, Ytop)]
    codes = [Path.MOVETO, Path.CURVE4, Path.CURVE4, Path.CURVE4, Path.LINETO, Path.CURVE4, Path.CURVE4, Path.CURVE4, Path.CLOSEPOLY]
    ax.add_patch(PathPatch(Path(verts, codes), lw=0, **kw))

for a0, a1, b0, b1 in ribbons_gray:
    ribbon(a0, a1, b0+OFF, b1+OFF, fc='#CCCCCC', zorder=1)
for a0, a1, b0, b1 in ribbons_orange:
    ribbon(a0, a1, b0+OFF, b1+OFF, fc='#FFA50A', zorder=1)
for a, b in f_lines:
    verts = [(a, Ytop), (a, Ymid), (b+OFF, Ymid), (b+OFF, Ybot)]
    codes = [Path.MOVETO, Path.CURVE4, Path.CURVE4, Path.CURVE4]
    ax.add_patch(PathPatch(Path(verts, codes), fc='none', ec='#9DBDD6', lw=.8, zorder=2))
for y0, y1, (c0, c1) in [(1223, 1234, f_centromere_top), (1277, 1288, (f_centromere_bot[0]+OFF, f_centromere_bot[1]+OFF))]:
    ax.add_patch(Rectangle((c0, y0), c1-c0, y1-y0, fc='#FF0000', ec='none', zorder=3))
    ax.add_patch(FancyBboxPatch((325, y0), 55, y1-y0, boxstyle='round,pad=0,rounding_size=.35', mutation_aspect=11.58,
                                fc='none', ec='#555555', lw=1.2, zorder=4))
f_pal = {'t':'#6FB8A8','T':'#28C8B8','m':'#8FA8A0','a':'#B09880','g':'#80C898','s':'#6F98A8','y':'#C8DC90','c':'#DDE282','u':'#A070B8','w':'#F4EEF8'}
strip(ax, f_top_strip, f_pal, 325, 380, 1205, 1217)
strip(ax, f_bot_strip, f_pal, 325, 380, 1295, 1307)
ax.plot([325, 380], [1191, 1191], color='#4CAF50', lw=1.1)
ax.plot([325, 380], [1321, 1321], color='#4CAF50', lw=1.1)
ax.vlines(f_ticks, 1191, 1197, color='#222222', lw=.7)
ax.vlines(f_ticks, 1316, 1321, color='#222222', lw=.7)
for t, s1, s2 in zip(f_ticks, f_top_labels, f_bot_labels):
    ax.text(t, 1180, s1, fontsize=8.4, ha='center', va='center', color='#222222', clip_on=False)
    ax.text(t, 1332, s2, fontsize=8.4, ha='center', va='center', color='#222222', clip_on=False)
T(58, 1211, 'TA299', 8.3, ha='right')
T(58, 1301, 'CS-IAAS', 8.3, ha='right')
for (name, c), y in zip(f_legend, [1192, 1211, 1228, 1247, 1263, 1282, 1299, 1317]):
    ov.add_patch(Rectangle((729, y-6), 12, 12, fc=c, ec='#222222', lw=.7))
    T(745, y, name, 8.5, ha='left')

fig.savefig('out.png', dpi=100, facecolor='white')
